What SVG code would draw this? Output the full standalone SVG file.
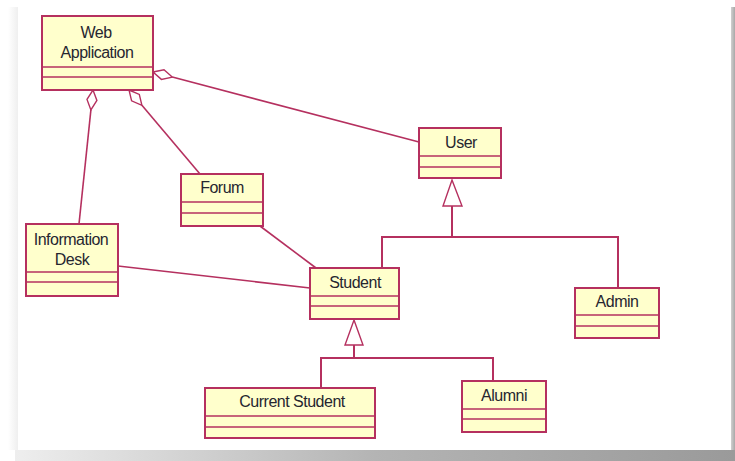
<svg xmlns="http://www.w3.org/2000/svg" width="735" height="461" viewBox="0 0 735 461">
<defs>
<linearGradient id="bot" x1="0" y1="0" x2="1" y2="0">
<stop offset="0" stop-color="#eeeeee"/>
<stop offset="0.5" stop-color="#b4b4b4"/>
<stop offset="1" stop-color="#9a9a9a"/>
</linearGradient>
<linearGradient id="lft" x1="0" y1="0" x2="1" y2="0">
<stop offset="0" stop-color="#ffffff"/>
<stop offset="1" stop-color="#efefef"/>
</linearGradient>
<linearGradient id="rgt" x1="0" y1="0" x2="1" y2="0">
<stop offset="0" stop-color="#d0d0d0"/>
<stop offset="1" stop-color="#a8a8a8"/>
</linearGradient>
<style>
.box{fill:#FFFFCC;stroke:#B5305F;stroke-width:2}
.sep{stroke:#B5305F;stroke-width:1.6}
.ln{fill:none;stroke:#B5305F;stroke-width:1.6}
.ln2{fill:none;stroke:#B5305F;stroke-width:2}
.dia{fill:#ffffff;stroke:#B5305F;stroke-width:1.4}
.tri{fill:#ffffff;stroke:#B5305F;stroke-width:1.4}
.t{font-family:"Liberation Sans",Arial,sans-serif;font-size:16px;fill:#262630;text-anchor:middle;letter-spacing:-0.5px}
</style>
</defs>
<rect x="0" y="0" width="735" height="461" fill="#ffffff"/>
<rect x="8" y="7" width="10" height="443" fill="url(#lft)"/>
<rect x="731" y="7" width="4" height="443" fill="url(#rgt)"/>
<rect x="15" y="450" width="720" height="11" fill="url(#bot)"/>

<g id="connectors">
<polygon class="dia" points="93,90 96.9,100.5 90.9,109.9 87,99.4"/>
<line class="ln" x1="90.9" y1="109.9" x2="79" y2="224"/>
<polygon class="dia" points="129,90 139.3,94.4 141.9,105.3 131.6,100.8"/>
<line class="ln" x1="141.9" y1="105.3" x2="200" y2="174"/>
<polygon class="dia" points="153,72 161.4,79.4 172.3,77.1 164,69.7"/>
<line class="ln" x1="172.3" y1="77.1" x2="419" y2="142"/>
<line class="ln" x1="260" y1="226" x2="316" y2="268"/>
<line class="ln" x1="118" y1="266" x2="310" y2="288"/>
<polygon class="tri" points="452,180 462,206 443,206"/>
<polyline class="ln2" points="452,206 452,237"/>
<polyline class="ln2" points="382,268 382,237 618,237 618,288"/>
<polygon class="tri" points="354,320 363,345 345,345"/>
<polyline class="ln2" points="354,345 354,358"/>
<polyline class="ln2" points="321,388 321,358 493,358 493,381"/>
</g>

<g id="web-application">
<rect class="box" x="42" y="16" width="111" height="74"/>
<line class="sep" x1="42" y1="67" x2="153" y2="67"/>
<line class="sep" x1="42" y1="77" x2="153" y2="77"/>
<text class="t" x="96" y="38">Web</text>
<text class="t" x="97" y="58">Application</text>
</g>

<g id="user">
<rect class="box" x="419" y="128" width="82" height="50"/>
<line class="sep" x1="419" y1="156" x2="501" y2="156"/>
<line class="sep" x1="419" y1="167" x2="501" y2="167"/>
<text class="t" x="461" y="148">User</text>
</g>

<g id="forum">
<rect class="box" x="181" y="174" width="82" height="52"/>
<line class="sep" x1="181" y1="202" x2="263" y2="202"/>
<line class="sep" x1="181" y1="213" x2="263" y2="213"/>
<text class="t" x="222" y="193">Forum</text>
</g>

<g id="information-desk">
<rect class="box" x="26" y="224" width="92" height="72"/>
<line class="sep" x1="26" y1="272" x2="118" y2="272"/>
<line class="sep" x1="26" y1="282" x2="118" y2="282"/>
<text class="t" x="71" y="245">Information</text>
<text class="t" x="72" y="265">Desk</text>
</g>

<g id="student">
<rect class="box" x="310" y="268" width="89" height="51"/>
<line class="sep" x1="310" y1="296" x2="399" y2="296"/>
<line class="sep" x1="310" y1="306" x2="399" y2="306"/>
<text class="t" x="355" y="288">Student</text>
</g>

<g id="admin">
<rect class="box" x="575" y="288" width="84" height="50"/>
<line class="sep" x1="575" y1="315" x2="659" y2="315"/>
<line class="sep" x1="575" y1="326" x2="659" y2="326"/>
<text class="t" x="617" y="307">Admin</text>
</g>

<g id="current-student">
<rect class="box" x="205" y="388" width="170" height="50"/>
<line class="sep" x1="205" y1="416" x2="375" y2="416"/>
<line class="sep" x1="205" y1="427" x2="375" y2="427"/>
<text class="t" x="292" y="407">Current Student</text>
</g>

<g id="alumni">
<rect class="box" x="462" y="381" width="84" height="51"/>
<line class="sep" x1="462" y1="409" x2="546" y2="409"/>
<line class="sep" x1="462" y1="419" x2="546" y2="419"/>
<text class="t" x="504" y="401">Alumni</text>
</g>
</svg>
